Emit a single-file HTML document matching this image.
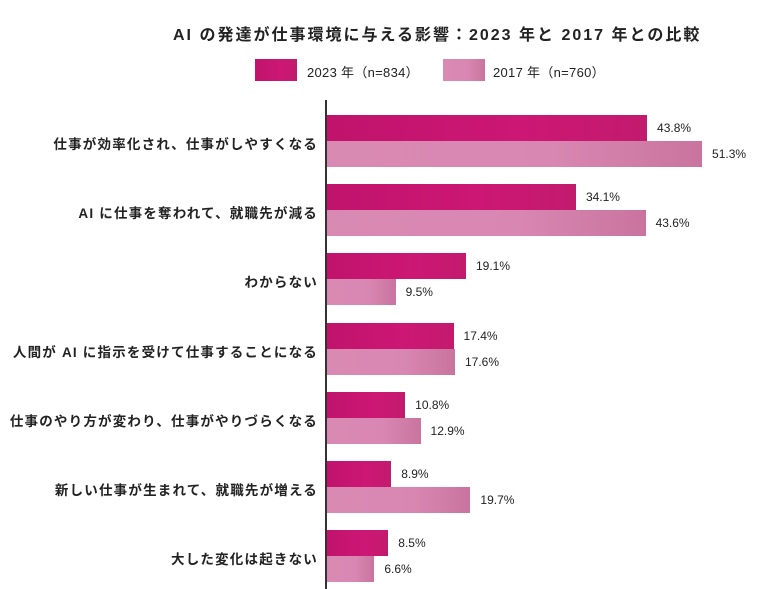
<!DOCTYPE html>
<html><head><meta charset="utf-8"><style>
body{margin:0;width:764px;height:589px;background:#fff;position:relative;overflow:hidden;font-family:"Liberation Sans","Noto Sans CJK JP",sans-serif;color:#222}
.t{position:absolute;white-space:nowrap}
.b{position:absolute;height:26px}
.a{background:linear-gradient(90deg,#c0136c,#cc1774 60%,#c31a6e)}
.c{background:linear-gradient(90deg,#d98ab2,#d887b2 60%,#c9749e)}
.lab{position:absolute;right:446px;font-size:13.5px;letter-spacing:1.2px;font-weight:bold;text-align:right;white-space:nowrap}
.v{position:absolute;font-size:12px}
</style></head><body>
<div class="t" style="left:173px;top:21px;font-size:16px;letter-spacing:2px;font-weight:bold">AI の発達が仕事環境に与える影響：2023 年と 2017 年との比較</div>
<div class="b a" style="left:255px;top:59px;width:42px;height:22px"></div>
<div class="t" style="left:307px;top:62px;font-size:13px;letter-spacing:0.3px">2023 年（n=834）</div>
<div class="b c" style="left:443px;top:59px;width:42px;height:22px"></div>
<div class="t" style="left:493px;top:62px;font-size:13px;letter-spacing:0.3px">2017 年（n=760）</div>
<div style="position:absolute;left:325px;top:100px;width:2px;height:489px;background:#333"></div>
<div id="g"></div>
<script>
var d=[["仕事が効率化され、仕事がしやすくなる",43.8,51.3],["AI に仕事を奪われて、就職先が減る",34.1,43.6],["わからない",19.1,9.5],["人間が AI に指示を受けて仕事することになる",17.4,17.6],["仕事のやり方が変わり、仕事がやりづらくなる",10.8,12.9],["新しい仕事が生まれて、就職先が増える",8.9,19.7],["大した変化は起きない",8.5,6.6]];
var h="",s=7.33;
d.forEach(function(r,i){var y=115+i*69.2;
h+='<div class="lab" style="top:'+(y+18)+'px">'+r[0]+'</div>';
h+='<div class="b a" style="left:327px;top:'+y+'px;width:'+(r[1]*s-1)+'px"></div>';
h+='<div class="b c" style="left:327px;top:'+(y+26)+'px;width:'+(r[2]*s-1)+'px"></div>';
h+='<div class="v" style="left:'+(336+r[1]*s)+'px;top:'+(y+6)+'px">'+r[1].toFixed(1)+'%</div>';
h+='<div class="v" style="left:'+(336+r[2]*s)+'px;top:'+(y+32)+'px">'+r[2].toFixed(1)+'%</div>';});
document.getElementById("g").innerHTML=h;
</script>
</body></html>
